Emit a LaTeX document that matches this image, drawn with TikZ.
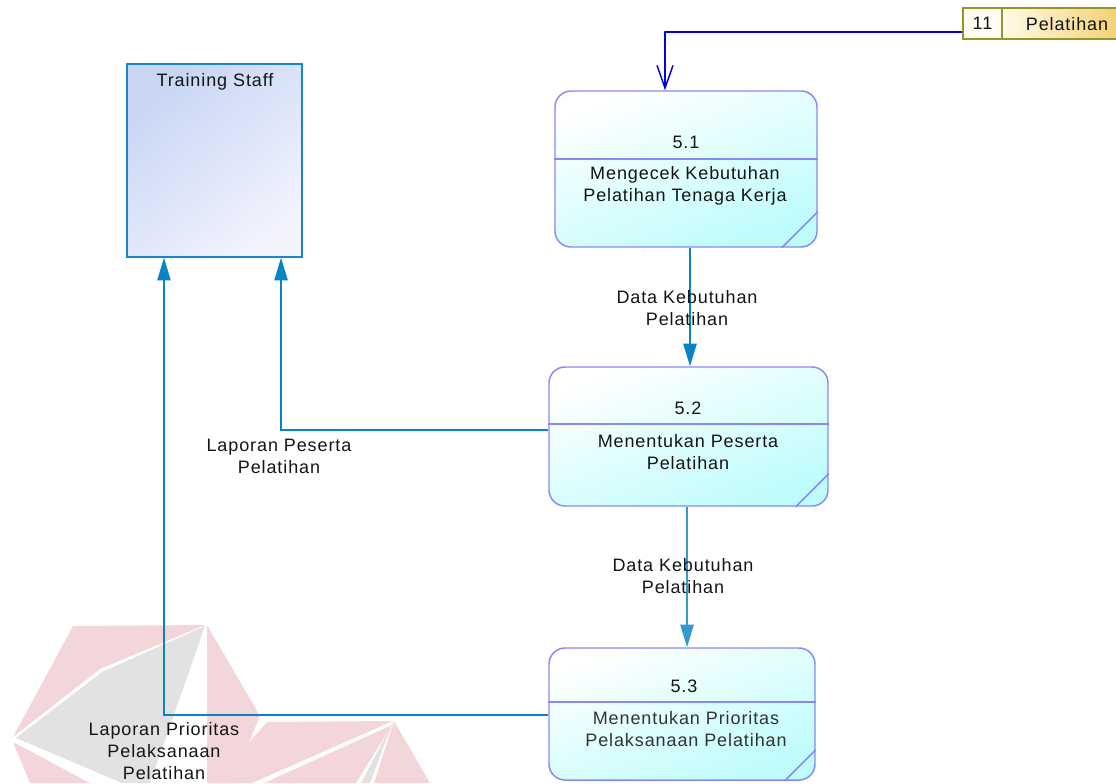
\documentclass[tikz,border=0pt]{standalone}
\usepackage{fontspec}
\setmainfont{Liberation Sans}[LetterSpace=5]
\usetikzlibrary{arrows.meta,calc}

\definecolor{procline}{RGB}{136,136,248}
\definecolor{procfill}{RGB}{190,252,252}
\definecolor{entline}{RGB}{26,134,200}
\definecolor{entfillA}{RGB}{200,214,244}
\definecolor{entfillB}{RGB}{242,243,253}
\definecolor{flowA}{RGB}{10,130,198}
\definecolor{flowB}{RGB}{52,154,206}
\definecolor{storeflow}{RGB}{0,0,230}
\definecolor{storeline}{RGB}{150,150,40}
\definecolor{storefillA}{RGB}{255,250,232}
\definecolor{storefillB}{RGB}{242,206,112}
\definecolor{wmred}{RGB}{243,214,218}
\definecolor{wmgrey}{RGB}{226,226,226}
\definecolor{ink}{RGB}{20,20,20}

\begin{document}
\begin{tikzpicture}[x=0.75pt,y=-0.75pt,
  font=\fontsize{13.5}{16.5}\selectfont, text=ink,
  proc/.style={draw=procline, line width=1.1pt, rounded corners=12pt,
    top color=white, bottom color=procfill, shading angle=22,
    inner sep=0pt},
  procrule/.style={draw=procline, line width=1.1pt},
  entity/.style={draw=entline, line width=1.1pt,
    top color=entfillA, bottom color=entfillB, shading angle=40,
    inner sep=0pt},
  storecell/.style={draw=storeline, line width=0.9pt, fill=storefillA!60!white,
    inner sep=0pt},
  storename/.style={draw=storeline, line width=0.9pt,
    left color=storefillA, right color=storefillB, inner sep=0pt},
  flow/.style={draw=flowA, line width=1.1pt,
    -{Triangle[length=17pt,width=10pt]}},
  flowlight/.style={flow, draw=flowB},
  sflow/.style={draw=storeflow, line width=1.1pt, line join=round,
    -{Straight Barb[length=17pt,width=12pt,line width=1.1pt]}},
  lbl/.style={align=center, inner sep=0pt}
]
\useasboundingbox (0,0) rectangle (1116,783);

% faint logo watermark in the lower left corner
\fill[wmred] (73,626) -- (205,625) -- (100,669) -- (13,737) -- cycle;
\fill[wmgrey] (16,738) -- (102,672) -- (205,626) -- (150,783) -- (122,783) -- cycle;
\fill[wmred] (207,625) -- (260,716) -- (232,783) -- (207,783) -- cycle;
\fill[wmred] (13,742) -- (90,783) -- (30,783) -- cycle;
\fill[wmred] (267,722) -- (393,721) -- (252,783) -- (213,783) -- cycle;
\fill[wmred] (392,725) -- (356,783) -- (264,783) -- cycle;
\fill[wmgrey] (393,722) -- (370,783) -- (361,783) -- cycle;
\fill[wmred] (394,721) -- (430,783) -- (374,783) -- cycle;

% external entity
\node[entity, minimum width=131.25pt, minimum height=144.75pt] (ts) at (214.5,160.5) {};
\node (tst) at (215,82) {Training Staff};

% data store
\node[storename, minimum width=92.25pt, minimum height=23.25pt] (dsn) at (1063.5,23.5) {};
\node[storecell, minimum width=29.25pt, minimum height=23.25pt] (ds) at (982.5,23.5) {11};
\node (dsl) at (1067,24) {Pelatihan};

% processes
\node[proc, minimum width=196.5pt, minimum height=117pt] (p1) at (686,169) {};
\draw[procrule] (p1.west |- 0,159) -- (p1.east |- 0,159);
\draw[procrule] ($(p1.south east)+(0,-36)$) -- ($(p1.south east)+(-36,0)$);
\node (p1n) at (686,142) {5.1};
\node[lbl] (p1t) at (685,186) {Mengecek Kebutuhan\\Pelatihan Tenaga Kerja};

\node[proc, minimum width=209.25pt, minimum height=104.25pt] (p2) at (688.5,436.5) {};
\draw[procrule] (p2.west |- 0,424) -- (p2.east |- 0,424);
\draw[procrule] ($(p2.south east)+(0,-33)$) -- ($(p2.south east)+(-33,0)$);
\node (p2n) at (688,408) {5.2};
\node[lbl] (p2t) at (688,452) {Menentukan Peserta\\Pelatihan};

\node[proc, minimum width=199.5pt, minimum height=99pt] (p3) at (682,714) {};
\draw[procrule] (p3.west |- 0,702) -- (p3.east |- 0,702);
\draw[procrule] ($(p3.south east)+(0,-31)$) -- ($(p3.south east)+(-31,0)$);
\node (p3n) at (684,686) {5.3};
\node[lbl, text=black!80] (p3t) at (686,729) {Menentukan Prioritas\\Pelaksanaan Pelatihan};

% data flows
\draw[sflow] ([yshift=-6.4pt]ds.west) -| ([xshift=-15.75pt]p1.north);
\draw[flow] ([xshift=3pt]p1.south) -- ([xshift=3pt]p1.south |- p2.north);
\draw[flowlight] ([xshift=-1.1pt]p2.south) -- ([xshift=-1.1pt]p2.south |- p3.north);
\draw[flow] ([yshift=4.9pt]p2.west) -| ([xshift=49.9pt]ts.south);
\draw[flow] ([yshift=-0.75pt]p3.west) -| ([xshift=-37.9pt]ts.south);

% flow labels
\node[lbl] (l1) at (687,308) {Data Kebutuhan\\Pelatihan};
\node[lbl] (l2) at (683,576) {Data Kebutuhan\\Pelatihan};
\node[lbl] (l3) at (279,456) {Laporan Peserta\\Pelatihan};
\node[lbl] (l4) at (164,751) {Laporan Prioritas\\Pelaksanaan\\Pelatihan};
\end{tikzpicture}
\end{document}
